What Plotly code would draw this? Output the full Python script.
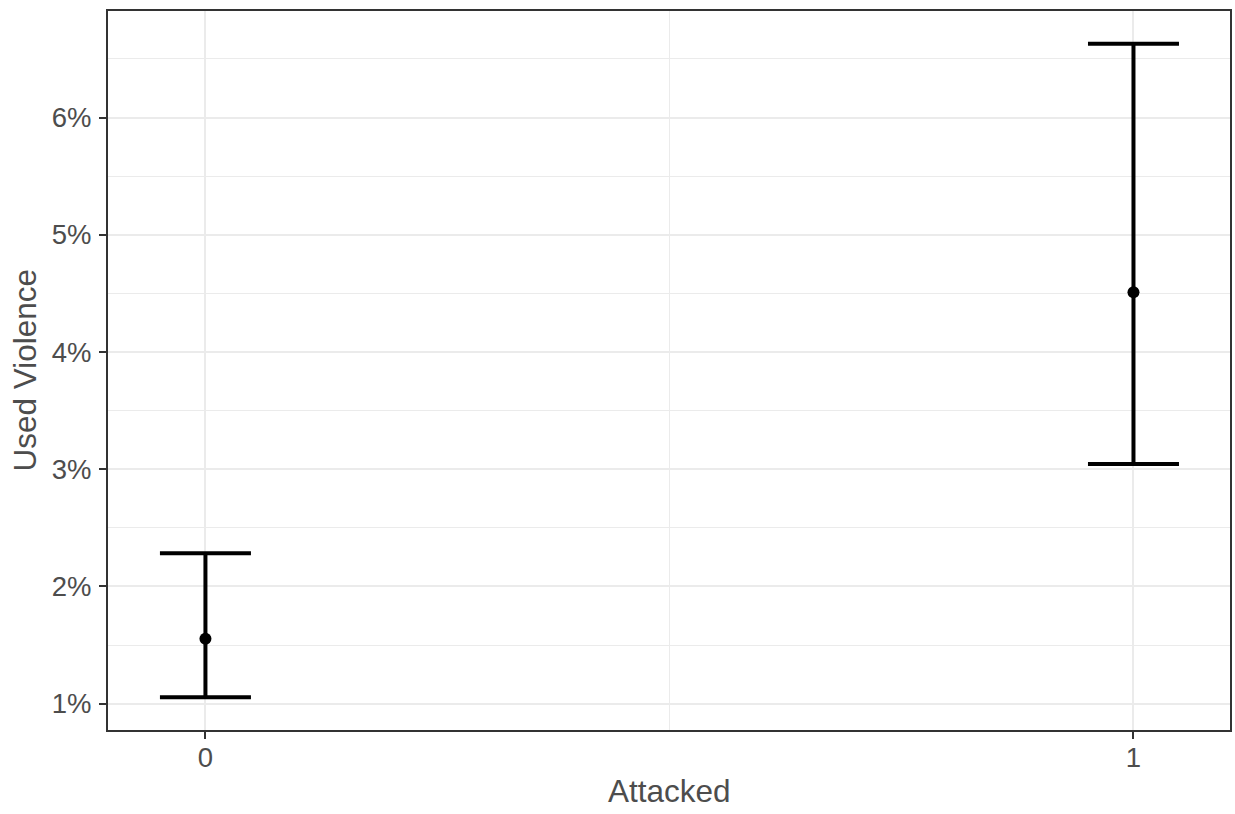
import plotly.graph_objects as go

# Data (proportions)
attacked = [0, 1]
used_violence = [0.01554, 0.04509]
ci_lower = [0.01054, 0.03044]
ci_upper = [0.02283, 0.06630]
x_tick_vals = [0, 1]
x_tick_text = ["0", "1"]
y_tick_vals = [0.01, 0.02, 0.03, 0.04, 0.05, 0.06]
y_tick_text = ["1%", "2%", "3%", "4%", "5%", "6%"]

err_plus = [u - m for u, m in zip(ci_upper, used_violence)]
err_minus = [m - l for m, l in zip(used_violence, ci_lower)]

FONT = "Liberation Sans, Arial, Helvetica, sans-serif"
TXT = "#4D4D4D"
TICK_SIZE = 27.5
TITLE_SIZE = 31.5

fig = go.Figure()
fig.add_trace(go.Scatter(
    x=attacked, y=used_violence, mode="markers",
    marker=dict(color="black", size=12),
    error_y=dict(type="data", symmetric=False, array=err_plus, arrayminus=err_minus,
                 color="black", thickness=4, width=45.5),
    showlegend=False, hoverinfo="skip",
))

fig.update_layout(
    width=1235, height=814,
    margin=dict(l=108, r=3, t=11, b=84),
    paper_bgcolor="white", plot_bgcolor="white",
    font=dict(family=FONT, color=TXT, size=TICK_SIZE),
    xaxis=dict(
        range=[-0.105, 1.104], tickvals=x_tick_vals, ticktext=x_tick_text,
        showgrid=True, gridcolor="#EBEBEB", gridwidth=2,
        minor=dict(dtick=0.5, tick0=0, showgrid=True, gridcolor="#EBEBEB", gridwidth=1),
        showline=True, mirror=True, linecolor="#333333", linewidth=2,
        ticks="outside", ticklen=7, tickwidth=2, tickcolor="#333333",
        tickfont=dict(size=TICK_SIZE, color=TXT, family=FONT),
        zeroline=False, ticklabelstandoff=-5,
    ),
    yaxis=dict(
        range=[0.00775, 0.06909], tickvals=y_tick_vals, ticktext=y_tick_text,
        showgrid=True, gridcolor="#EBEBEB", gridwidth=2,
        minor=dict(dtick=0.005, tick0=0.005, showgrid=True, gridcolor="#EBEBEB", gridwidth=1),
        showline=True, mirror=True, linecolor="#333333", linewidth=2,
        ticks="outside", ticklen=7, tickwidth=2, tickcolor="#333333",
        tickfont=dict(size=TICK_SIZE, color=TXT, family=FONT),
        zeroline=False, ticklabelstandoff=2,
    ),
    annotations=[
        dict(text="Attacked", xref="paper", yref="paper", x=0.5, y=0,
             xanchor="center", yanchor="middle", yshift=-61, showarrow=False,
             font=dict(size=TITLE_SIZE, color=TXT, family=FONT)),
        dict(text="Used Violence", xref="paper", yref="paper", x=0, y=0.5,
             xanchor="center", yanchor="middle", xshift=-84, textangle=-90,
             showarrow=False, font=dict(size=TITLE_SIZE, color=TXT, family=FONT)),
    ],
)

fig.write_html("out.html", config={"displayModeBar": False},
               post_script="document.body.style.margin='0';document.body.style.overflow='hidden';")
